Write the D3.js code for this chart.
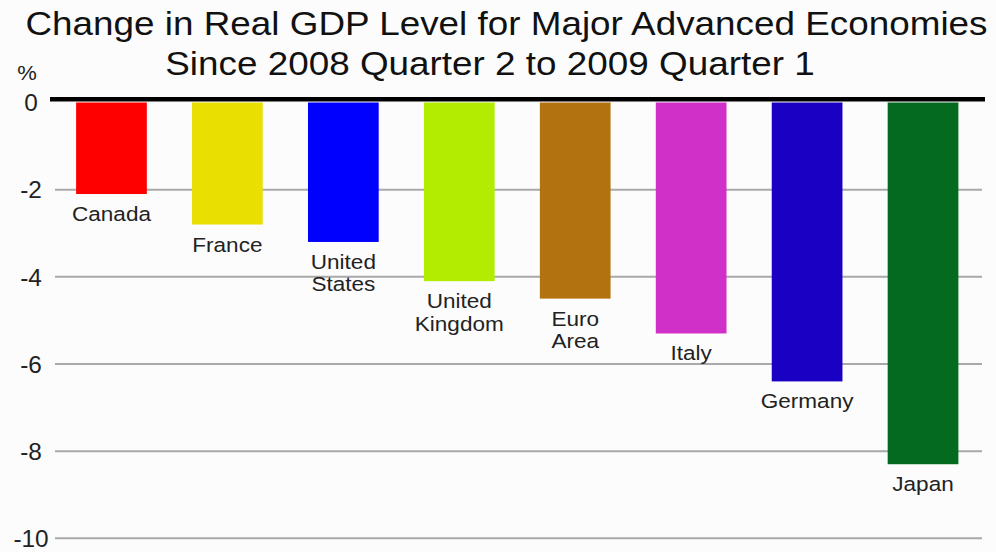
<!DOCTYPE html>
<html>
<head>
<meta charset="utf-8">
<script src="https://cdn.jsdelivr.net/npm/d3@7"></script>
<style>
  html, body { margin: 0; padding: 0; background: #fcfcfc; }
  svg { display: block; font-family: "Liberation Sans", Arial, Helvetica, sans-serif; }
</style>
</head>
<body>
<svg id="chart" width="996" height="552"></svg>
<script>
// Economies, ordered from smallest to largest contraction
const economies = ["Canada", "France", "United States", "United Kingdom", "Euro Area", "Italy", "Germany", "Japan"];
// Label lines drawn under each bar
const labelLines = [["Canada"], ["France"], ["United", "States"], ["United", "Kingdom"], ["Euro", "Area"], ["Italy"], ["Germany"], ["Japan"]];
// Percent change in real GDP level, 2008 Q2 to 2009 Q1
const gdpChange = [-2.1, -2.8, -3.2, -4.1, -4.5, -5.3, -6.4, -8.3];
const barColors = ["#ff0000", "#e9df00", "#0000ff", "#b3ec00", "#b37210", "#d02fc8", "#1900c2", "#036a1f"];
const yTicks = [0, -2, -4, -6, -8, -10];
const titleLines = ["Change in Real GDP Level for Major Advanced Economies", "Since 2008 Quarter 2 to 2009 Quarter 1"];

// The type in this chart is set a little wider than the stock face
function widen(sel, factor = 1.1) {
  sel.each(function () {
    const w = this.getComputedTextLength();
    d3.select(this)
      .attr("textLength", w * factor)
      .attr("lengthAdjust", "spacingAndGlyphs");
  });
}

const svg = d3.select("#chart");

const x = d3.scaleBand()
  .domain(economies)
  .range([53.5, 981])
  .paddingInner(0.39)
  .paddingOuter(0.195);

const y = d3.scaleLinear()
  .domain([0, -10])
  .range([102.5, 538.3]);

// Title
svg.append("g").selectAll("text")
  .data(titleLines)
  .join("text")
  .attr("x", (d, i) => i === 0 ? 506.5 : 490)
  .attr("y", (d, i) => 35 + i * 40)
  .attr("text-anchor", "middle")
  .attr("font-size", 33.5)
  .attr("fill", "#111")
  .text(d => d)
  .call(widen);

// Unit label
svg.append("text")
  .attr("x", 27).attr("y", 80)
  .attr("text-anchor", "middle")
  .attr("font-size", 20)
  .attr("fill", "#222")
  .text("%")
  .call(widen);

// Horizontal grid lines (below zero)
svg.append("g").selectAll("line")
  .data(yTicks.filter(d => d !== 0))
  .join("line")
  .attr("x1", 55).attr("x2", 982)
  .attr("y1", d => y(d)).attr("y2", d => y(d))
  .attr("stroke", "#a9a9a9")
  .attr("stroke-width", 2);

// Tick labels via the axis generator
const yAxis = d3.axisLeft(y)
  .tickValues(yTicks)
  .tickFormat(d => String(d))
  .tickSize(0)
  .tickPadding(0);

const axisG = svg.append("g").attr("transform", "translate(31,0)").call(yAxis);
axisG.select(".domain").remove();
axisG.selectAll("text")
  .attr("text-anchor", "middle")
  .attr("x", 0)
  .attr("dy", "0.36em")
  .attr("font-size", 23)
  .attr("font-family", "\"Liberation Sans\", Arial, sans-serif")
  .attr("fill", "#222")
  .call(widen, 1.06);

// Bars
svg.append("g").selectAll("rect")
  .data(economies)
  .join("rect")
  .attr("x", d => x(d))
  .attr("width", x.bandwidth())
  .attr("y", y(0))
  .attr("height", (d, i) => y(gdpChange[i]) - y(0))
  .attr("fill", (d, i) => barColors[i]);

// Zero line
svg.append("line")
  .attr("x1", 50).attr("x2", 985)
  .attr("y1", y(0) - 3.2).attr("y2", y(0) - 3.2)
  .attr("stroke", "#000")
  .attr("stroke-width", 4.5);

// Category labels under each bar, one text element per line
const labelData = economies.flatMap((d, i) =>
  labelLines[i].map((line, j) => ({ key: d, value: gdpChange[i], line, j })));

svg.append("g").selectAll("text")
  .data(labelData)
  .join("text")
  .attr("text-anchor", "middle")
  .attr("font-size", 20.5)
  .attr("fill", "#222")
  .attr("x", d => x(d.key) + x.bandwidth() / 2)
  .attr("y", d => y(d.value) + 27 + d.j * 22.5)
  .text(d => d.line)
  .call(widen);
</script>
</body>
</html>
